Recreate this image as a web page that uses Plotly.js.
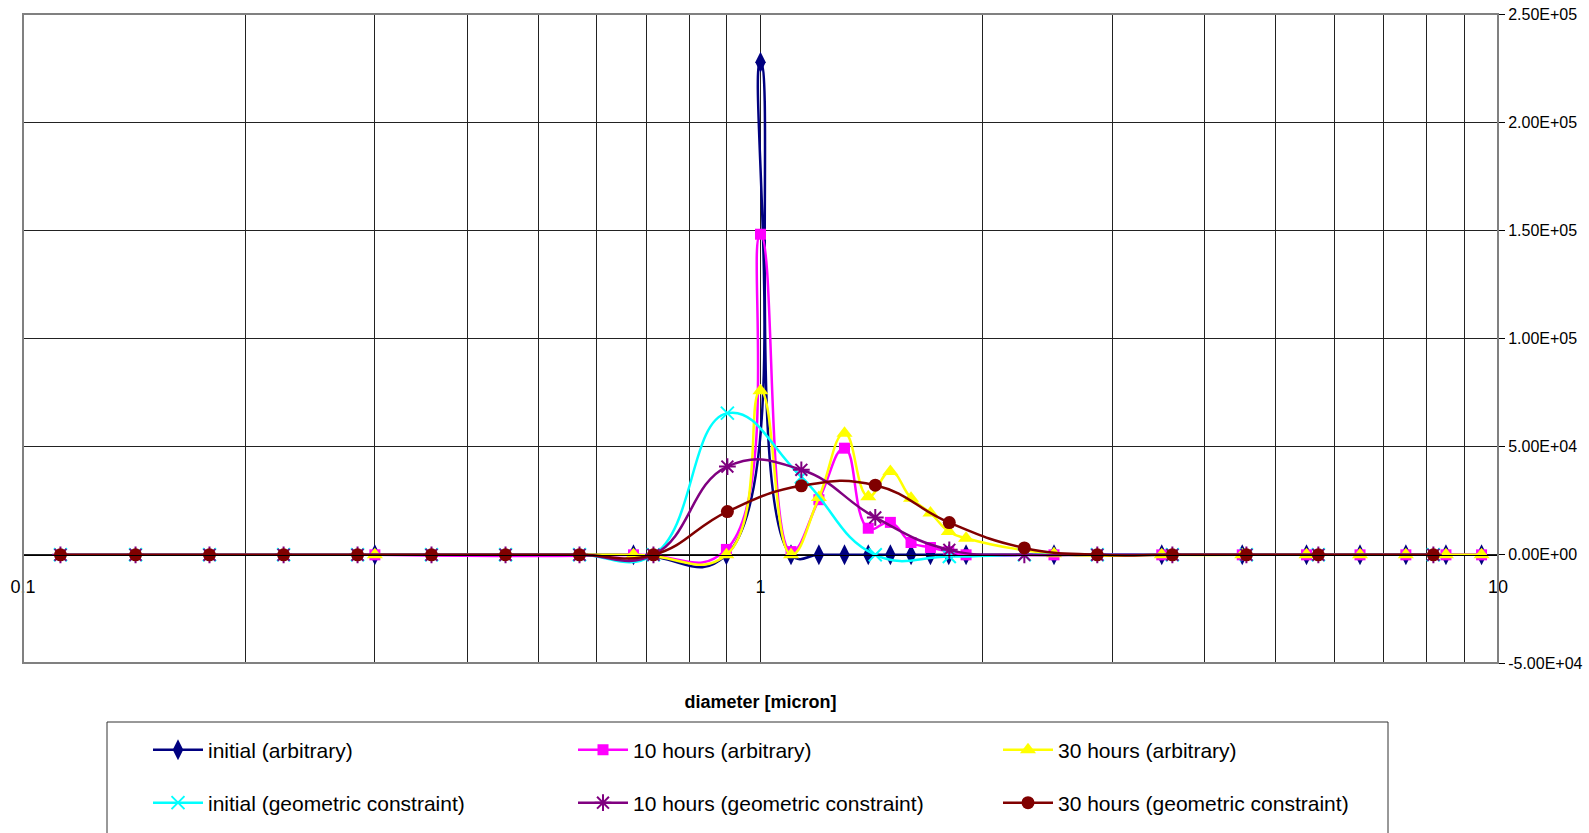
<!DOCTYPE html>
<html><head><meta charset="utf-8">
<script src="https://cdn.plot.ly/plotly-3.0.1.min.js"></script>
<style>html,body{margin:0;padding:0;background:#fff}</style>
</head><body><div id="chart" style="width:1589px;height:833px"></div>
<script>
// ---- data ----
const arbX = [0.3, 0.6726, 0.899, 1.0, 1.1, 1.2, 1.3, 1.4, 1.5, 1.6, 1.7, 1.8, 1.9, 2.5, 3.5, 4.5, 5.5, 6.5, 7.5, 8.5, 9.5];
const initialArb = [0, 0, 0, 227700, 0, 0, 0, 0, 0, 0, 0, 0, 0, 0, 0, 0, 0, 0, 0, 0, 0];
const hours10Arb = [0, 0, 2500, 148200, 1500, 25500, 49300, 12300, 15000, 5700, 3400, 1500, 0, 0, 0, 0, 0, 0, 0, 0, 0];
const hours30Arb = [0, 0, 0, 75800, 0, 26500, 56200, 26900, 38500, 26200, 19300, 10800, 7700, 500, 0, 0, 0, 0, 0, 0, 0];

const geoX = [0.1124, 0.1421, 0.1790, 0.2256, 0.2842, 0.3580, 0.4511, 0.5683, 0.7159, 0.9018, 1.136, 1.431, 1.803, 2.279, 2.862, 3.618, 4.559, 5.707, 8.173];
const initialGeo = [0, 0, 0, 0, 0, 0, 0, 0, 0, 65500, 36000, 0, -800, 0, 0, 0, 0, 0, 0];
const hours10Geo = [0, 0, 0, 0, 0, 0, 0, 0, 0, 40800, 39300, 17300, 2300, 0, 0, 0, 0, 0, 0];
const hours30Geo = [0, 0, 0, 0, 0, 0, 0, 0, 0, 20000, 31900, 32200, 14900, 3200, 0, 0, 0, 0, 0];

const seriesNames = ['initial (arbitrary)', '10 hours (arbitrary)', '30 hours (arbitrary)',
  'initial (geometric constraint)', '10 hours (geometric constraint)', '30 hours (geometric constraint)'];

const xTickVals = [0.1, 1, 10];
const xTickText = ['0.1', '1', '10'];
const xGridVals = [0.2, 0.3, 0.4, 0.5, 0.6, 0.7, 0.8, 0.9, 2, 3, 4, 5, 6, 7, 8, 9];
const yTickVals = [-50000, 0, 50000, 100000, 150000, 200000, 250000];
const yTickText = ['-5.00E+04', '0.00E+00', '5.00E+04', '1.00E+05', '1.50E+05', '2.00E+05', '2.50E+05'];
const xTitle = 'diameter [micron]';

// ---- styling ----
const FONT = 'Liberation Sans, Arial, sans-serif';
function tr(x, y, name, color, symbol, msize, legend, thin) {
  const marker = {color: color, symbol: symbol, size: msize};
  marker.line = thin ? {color: color, width: 2} : {width: 0};
  return {x: x, y: y, name: name, type: 'scatter', mode: 'lines+markers',
    line: {color: color, width: 2.5, shape: 'spline', smoothing: 1.3},
    marker: marker, legend: legend};
}
const data = [
  tr(arbX, initialArb, seriesNames[0], '#000080', 'diamond-tall', 15, 'legend', false),
  tr(arbX, hours10Arb, seriesNames[1], '#FF00FF', 'square', 11, 'legend', false),
  tr(arbX, hours30Arb, seriesNames[2], '#FFFF00', 'triangle-up', 14, 'legend', false),
  tr(geoX, initialGeo, seriesNames[3], '#00FFFF', 'x-thin', 13, 'legend2', true),
  tr(geoX, hours10Geo, seriesNames[4], '#800080', 'asterisk', 14, 'legend2', true),
  tr(geoX, hours30Geo, seriesNames[5], '#800000', 'circle', 13, 'legend2', false)
];

const L = 23, R = 91, T = 14, B = 170, W = 1589 - L - R, H = 833 - T - B;
const px = v => (v - L) / W;
const py = v => (833 - B - v) / H;

const legendCommon = {
  orientation: 'h', xanchor: 'left', yanchor: 'middle',
  entrywidth: 360, entrywidthmode: 'pixels',
  font: {family: FONT, size: 21, color: '#000'},
  bgcolor: 'rgba(0,0,0,0)', borderwidth: 0, itemwidth: 50
};

const layout = {
  width: 1589, height: 833,
  margin: {l: L, r: R, t: T, b: B, pad: 0, autoexpand: false},
  paper_bgcolor: '#fff', plot_bgcolor: '#fff',
  showlegend: true,
  xaxis: {
    type: 'log', range: [-1, 1], anchor: 'free', position: 1 / 6, automargin: false,
    tickmode: 'array', tickvals: xTickVals, ticktext: xTickText,
    ticks: 'outside', ticklen: 16, tickcolor: 'rgba(0,0,0,0)',
    tickfont: {family: FONT, size: 18, color: '#000'},
    showline: true, linecolor: '#000', linewidth: 1,
    showgrid: true, gridcolor: '#222', gridwidth: 1, zeroline: false,
    minor: {tickmode: 'array', tickvals: xGridVals, showgrid: true, gridcolor: '#222', gridwidth: 1, ticks: ''},
    title: {text: xTitle, standoff: 98, font: {family: FONT, size: 18, weight: 'bold', color: '#000'}}
  },
  yaxis: {
    range: [-50000, 250000], side: 'right', automargin: false,
    tickmode: 'array', tickvals: yTickVals, ticktext: yTickText,
    ticks: 'outside', ticklen: 6, tickcolor: '#000', tickwidth: 1,
    tickfont: {family: FONT, size: 16, color: '#000'},
    showgrid: true, gridcolor: '#222', gridwidth: 1, zeroline: false, showline: false
  },
  legend: Object.assign({}, legendCommon, {x: px(148), y: py(750)}),
  legend2: Object.assign({}, legendCommon, {x: px(148), y: py(803)}),
  shapes: [
    {type: 'rect', xref: 'paper', yref: 'paper', x0: 0, x1: 1, y0: 0, y1: 1,
     line: {color: '#808080', width: 2}, layer: 'above'},
    {type: 'rect', xref: 'paper', yref: 'paper', x0: px(107), x1: px(1388), y0: py(722), y1: py(850),
     line: {color: '#333', width: 1}, layer: 'above'}
  ]
};

Plotly.newPlot('chart', data, layout, {displayModeBar: false, staticPlot: true});
</script></body></html>
